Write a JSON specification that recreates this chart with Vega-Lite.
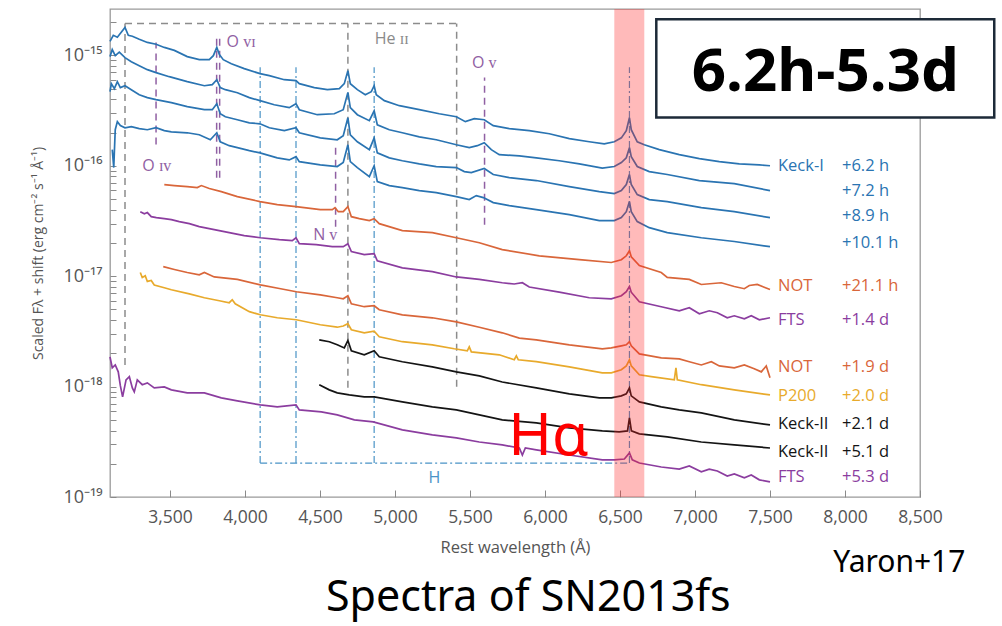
{
"$schema":"https://vega.github.io/schema/vega-lite/v6.json",
"width":810,"height":488,
"autosize":{"type":"none"},
"padding":{"left":110,"top":9,"right":82,"bottom":129},
"background":"white",
"config":{"view":{"stroke":"#9a9a9a","strokeWidth":1.3},"font":"Open Sans"},
"datasets":{
"spec":[
{"s":"k1","w":3100,"f":1.34e-15},{"s":"k1","w":3122,"f":1.52e-15},{"s":"k1","w":3149,"f":1.46e-15},{"s":"k1","w":3175,"f":1.62e-15},{"s":"k1","w":3200,"f":1.79e-15},{"s":"k1","w":3222,"f":1.52e-15},{"s":"k1","w":3249,"f":1.49e-15},{"s":"k1","w":3295,"f":1.40e-15},{"s":"k1","w":3349,"f":1.31e-15},{"s":"k1","w":3407,"f":1.26e-15},{"s":"k1","w":3462,"f":1.18e-15},{"s":"k1","w":3529,"f":1.11e-15},{"s":"k1","w":3615,"f":9.74e-16},{"s":"k1","w":3695,"f":9.14e-16},{"s":"k1","w":3762,"f":9.14e-16},{"s":"k1","w":3789,"f":9.94e-16},{"s":"k1","w":3812,"f":1.18e-15},{"s":"k1","w":3829,"f":1.02e-15},{"s":"k1","w":3855,"f":9.14e-16},{"s":"k1","w":3909,"f":8.41e-16},{"s":"k1","w":3995,"f":7.58e-16},{"s":"k1","w":4100,"f":6.83e-16},{"s":"k1","w":4162,"f":6.55e-16},{"s":"k1","w":4262,"f":6.02e-16},{"s":"k1","w":4340,"f":5.90e-16},{"s":"k1","w":4362,"f":5.54e-16},{"s":"k1","w":4462,"f":5.10e-16},{"s":"k1","w":4549,"f":4.89e-16},{"s":"k1","w":4629,"f":4.99e-16},{"s":"k1","w":4662,"f":5.54e-16},{"s":"k1","w":4686,"f":7.27e-16},{"s":"k1","w":4702,"f":5.54e-16},{"s":"k1","w":4749,"f":4.89e-16},{"s":"k1","w":4802,"f":4.40e-16},{"s":"k1","w":4842,"f":4.69e-16},{"s":"k1","w":4861,"f":5.31e-16},{"s":"k1","w":4875,"f":4.40e-16},{"s":"k1","w":4929,"f":3.89e-16},{"s":"k1","w":5029,"f":3.50e-16},{"s":"k1","w":5162,"f":3.22e-16},{"s":"k1","w":5295,"f":2.96e-16},{"s":"k1","w":5409,"f":2.78e-16},{"s":"k1","w":5469,"f":2.51e-16},{"s":"k1","w":5529,"f":2.67e-16},{"s":"k1","w":5595,"f":2.61e-16},{"s":"k1","w":5655,"f":2.31e-16},{"s":"k1","w":5762,"f":2.17e-16},{"s":"k1","w":5895,"f":2.08e-16},{"s":"k1","w":6029,"f":1.95e-16},{"s":"k1","w":6162,"f":1.76e-16},{"s":"k1","w":6295,"f":1.65e-16},{"s":"k1","w":6395,"f":1.58e-16},{"s":"k1","w":6462,"f":1.65e-16},{"s":"k1","w":6509,"f":1.79e-16},{"s":"k1","w":6542,"f":2.08e-16},{"s":"k1","w":6563,"f":2.72e-16},{"s":"k1","w":6575,"f":2.12e-16},{"s":"k1","w":6615,"f":1.65e-16},{"s":"k1","w":6662,"f":1.55e-16},{"s":"k1","w":6762,"f":1.40e-16},{"s":"k1","w":6895,"f":1.26e-16},{"s":"k1","w":7029,"f":1.16e-16},{"s":"k1","w":7162,"f":1.09e-16},{"s":"k1","w":7295,"f":1.04e-16},{"s":"k1","w":7429,"f":1.02e-16},{"s":"k1","w":7500,"f":1.00e-16},
{"s":"k2","w":3100,"f":9.74e-16},{"s":"k2","w":3115,"f":1.13e-15},{"s":"k2","w":3135,"f":9.94e-16},{"s":"k2","w":3162,"f":1.07e-15},{"s":"k2","w":3200,"f":9.53e-16},{"s":"k2","w":3242,"f":8.77e-16},{"s":"k2","w":3295,"f":8.07e-16},{"s":"k2","w":3349,"f":7.42e-16},{"s":"k2","w":3407,"f":6.97e-16},{"s":"k2","w":3495,"f":6.41e-16},{"s":"k2","w":3615,"f":5.78e-16},{"s":"k2","w":3729,"f":5.31e-16},{"s":"k2","w":3782,"f":5.43e-16},{"s":"k2","w":3812,"f":6.02e-16},{"s":"k2","w":3835,"f":5.10e-16},{"s":"k2","w":3869,"f":4.89e-16},{"s":"k2","w":3949,"f":4.59e-16},{"s":"k2","w":4029,"f":4.14e-16},{"s":"k2","w":4100,"f":3.89e-16},{"s":"k2","w":4195,"f":3.57e-16},{"s":"k2","w":4295,"f":3.36e-16},{"s":"k2","w":4340,"f":3.65e-16},{"s":"k2","w":4362,"f":3.22e-16},{"s":"k2","w":4482,"f":2.90e-16},{"s":"k2","w":4595,"f":2.96e-16},{"s":"k2","w":4655,"f":3.22e-16},{"s":"k2","w":4686,"f":4.62e-16},{"s":"k2","w":4702,"f":3.36e-16},{"s":"k2","w":4749,"f":2.90e-16},{"s":"k2","w":4829,"f":2.56e-16},{"s":"k2","w":4861,"f":3.15e-16},{"s":"k2","w":4882,"f":2.35e-16},{"s":"k2","w":4962,"f":2.12e-16},{"s":"k2","w":5049,"f":1.99e-16},{"s":"k2","w":5162,"f":1.83e-16},{"s":"k2","w":5275,"f":1.72e-16},{"s":"k2","w":5409,"f":1.55e-16},{"s":"k2","w":5495,"f":1.46e-16},{"s":"k2","w":5549,"f":1.52e-16},{"s":"k2","w":5595,"f":1.62e-16},{"s":"k2","w":5642,"f":1.40e-16},{"s":"k2","w":5695,"f":1.26e-16},{"s":"k2","w":5829,"f":1.23e-16},{"s":"k2","w":5942,"f":1.18e-16},{"s":"k2","w":6095,"f":1.11e-16},{"s":"k2","w":6229,"f":1.04e-16},{"s":"k2","w":6382,"f":9.53e-17},{"s":"k2","w":6462,"f":9.84e-17},{"s":"k2","w":6509,"f":1.07e-16},{"s":"k2","w":6542,"f":1.18e-16},{"s":"k2","w":6563,"f":1.46e-16},{"s":"k2","w":6575,"f":1.21e-16},{"s":"k2","w":6615,"f":9.84e-17},{"s":"k2","w":6695,"f":8.86e-17},{"s":"k2","w":6815,"f":8.33e-17},{"s":"k2","w":7029,"f":7.35e-17},{"s":"k2","w":7262,"f":6.90e-17},{"s":"k2","w":7500,"f":5.96e-17},
{"s":"k3","w":3100,"f":4.69e-16},{"s":"k3","w":3109,"f":5.54e-16},{"s":"k3","w":3129,"f":4.99e-16},{"s":"k3","w":3149,"f":5.78e-16},{"s":"k3","w":3169,"f":5.10e-16},{"s":"k3","w":3200,"f":5.31e-16},{"s":"k3","w":3242,"f":4.89e-16},{"s":"k3","w":3295,"f":4.40e-16},{"s":"k3","w":3349,"f":4.14e-16},{"s":"k3","w":3407,"f":3.97e-16},{"s":"k3","w":3509,"f":3.73e-16},{"s":"k3","w":3615,"f":3.43e-16},{"s":"k3","w":3729,"f":3.22e-16},{"s":"k3","w":3782,"f":3.22e-16},{"s":"k3","w":3812,"f":3.65e-16},{"s":"k3","w":3835,"f":2.96e-16},{"s":"k3","w":3869,"f":2.78e-16},{"s":"k3","w":3949,"f":2.61e-16},{"s":"k3","w":4029,"f":2.45e-16},{"s":"k3","w":4100,"f":2.40e-16},{"s":"k3","w":4162,"f":2.21e-16},{"s":"k3","w":4262,"f":2.08e-16},{"s":"k3","w":4340,"f":2.21e-16},{"s":"k3","w":4362,"f":1.99e-16},{"s":"k3","w":4502,"f":1.79e-16},{"s":"k3","w":4615,"f":1.72e-16},{"s":"k3","w":4655,"f":1.87e-16},{"s":"k3","w":4686,"f":2.72e-16},{"s":"k3","w":4702,"f":1.91e-16},{"s":"k3","w":4749,"f":1.65e-16},{"s":"k3","w":4829,"f":1.40e-16},{"s":"k3","w":4861,"f":1.79e-16},{"s":"k3","w":4882,"f":1.31e-16},{"s":"k3","w":4962,"f":1.18e-16},{"s":"k3","w":5049,"f":1.11e-16},{"s":"k3","w":5162,"f":1.04e-16},{"s":"k3","w":5275,"f":9.84e-17},{"s":"k3","w":5409,"f":9.63e-17},{"s":"k3","w":5462,"f":8.86e-17},{"s":"k3","w":5509,"f":8.68e-17},{"s":"k3","w":5595,"f":9.44e-17},{"s":"k3","w":5655,"f":8.33e-17},{"s":"k3","w":5762,"f":7.82e-17},{"s":"k3","w":5942,"f":7.35e-17},{"s":"k3","w":6162,"f":6.48e-17},{"s":"k3","w":6362,"f":5.84e-17},{"s":"k3","w":6462,"f":5.60e-17},{"s":"k3","w":6509,"f":5.96e-17},{"s":"k3","w":6542,"f":6.76e-17},{"s":"k3","w":6563,"f":8.33e-17},{"s":"k3","w":6575,"f":6.76e-17},{"s":"k3","w":6615,"f":5.48e-17},{"s":"k3","w":6695,"f":4.94e-17},{"s":"k3","w":6815,"f":4.74e-17},{"s":"k3","w":7042,"f":4.18e-17},{"s":"k3","w":7262,"f":3.84e-17},{"s":"k3","w":7500,"f":3.39e-17},
{"s":"k4","w":3115,"f":1.40e-16},{"s":"k4","w":3125,"f":9.63e-17},{"s":"k4","w":3135,"f":2.12e-16},{"s":"k4","w":3149,"f":2.51e-16},{"s":"k4","w":3169,"f":2.31e-16},{"s":"k4","w":3200,"f":2.21e-16},{"s":"k4","w":3242,"f":2.26e-16},{"s":"k4","w":3295,"f":2.17e-16},{"s":"k4","w":3349,"f":2.12e-16},{"s":"k4","w":3407,"f":2.21e-16},{"s":"k4","w":3462,"f":2.08e-16},{"s":"k4","w":3509,"f":2.03e-16},{"s":"k4","w":3615,"f":1.99e-16},{"s":"k4","w":3695,"f":1.91e-16},{"s":"k4","w":3769,"f":1.72e-16},{"s":"k4","w":3812,"f":1.99e-16},{"s":"k4","w":3835,"f":1.65e-16},{"s":"k4","w":3895,"f":1.52e-16},{"s":"k4","w":3949,"f":1.46e-16},{"s":"k4","w":4029,"f":1.37e-16},{"s":"k4","w":4100,"f":1.31e-16},{"s":"k4","w":4215,"f":1.18e-16},{"s":"k4","w":4295,"f":1.13e-16},{"s":"k4","w":4340,"f":1.21e-16},{"s":"k4","w":4362,"f":1.09e-16},{"s":"k4","w":4502,"f":1.02e-16},{"s":"k4","w":4615,"f":9.84e-17},{"s":"k4","w":4655,"f":1.07e-16},{"s":"k4","w":4686,"f":1.55e-16},{"s":"k4","w":4702,"f":1.09e-16},{"s":"k4","w":4749,"f":9.63e-17},{"s":"k4","w":4829,"f":7.98e-17},{"s":"k4","w":4861,"f":1.00e-16},{"s":"k4","w":4882,"f":7.19e-17},{"s":"k4","w":4962,"f":6.62e-17},{"s":"k4","w":5049,"f":6.35e-17},{"s":"k4","w":5162,"f":5.96e-17},{"s":"k4","w":5275,"f":5.72e-17},{"s":"k4","w":5409,"f":5.26e-17},{"s":"k4","w":5495,"f":4.94e-17},{"s":"k4","w":5542,"f":5.37e-17},{"s":"k4","w":5589,"f":5.15e-17},{"s":"k4","w":5655,"f":4.64e-17},{"s":"k4","w":5762,"f":4.36e-17},{"s":"k4","w":5942,"f":4.01e-17},{"s":"k4","w":6162,"f":3.61e-17},{"s":"k4","w":6362,"f":3.19e-17},{"s":"k4","w":6462,"f":3.19e-17},{"s":"k4","w":6509,"f":3.39e-17},{"s":"k4","w":6542,"f":3.84e-17},{"s":"k4","w":6563,"f":4.74e-17},{"s":"k4","w":6575,"f":3.84e-17},{"s":"k4","w":6615,"f":3.12e-17},{"s":"k4","w":6695,"f":2.75e-17},{"s":"k4","w":6815,"f":2.48e-17},{"s":"k4","w":7042,"f":2.23e-17},{"s":"k4","w":7262,"f":2.06e-17},{"s":"k4","w":7500,"f":1.85e-17},
{"s":"not1","w":3462,"f":6.76e-17},{"s":"not1","w":3529,"f":6.62e-17},{"s":"not1","w":3615,"f":6.48e-17},{"s":"not1","w":3682,"f":6.35e-17},{"s":"not1","w":3709,"f":6.62e-17},{"s":"not1","w":3762,"f":6.22e-17},{"s":"not1","w":3842,"f":5.84e-17},{"s":"not1","w":3949,"f":5.26e-17},{"s":"not1","w":4100,"f":4.74e-17},{"s":"not1","w":4215,"f":4.45e-17},{"s":"not1","w":4340,"f":4.27e-17},{"s":"not1","w":4502,"f":4.01e-17},{"s":"not1","w":4582,"f":4.01e-17},{"s":"not1","w":4600,"f":4.18e-17},{"s":"not1","w":4622,"f":3.84e-17},{"s":"not1","w":4655,"f":3.84e-17},{"s":"not1","w":4686,"f":4.27e-17},{"s":"not1","w":4709,"f":3.46e-17},{"s":"not1","w":4762,"f":3.32e-17},{"s":"not1","w":4829,"f":3.19e-17},{"s":"not1","w":4861,"f":3.32e-17},{"s":"not1","w":4895,"f":2.99e-17},{"s":"not1","w":5049,"f":2.59e-17},{"s":"not1","w":5249,"f":2.48e-17},{"s":"not1","w":5409,"f":2.23e-17},{"s":"not1","w":5562,"f":2.01e-17},{"s":"not1","w":5715,"f":1.74e-17},{"s":"not1","w":5962,"f":1.53e-17},{"s":"not1","w":6229,"f":1.41e-17},{"s":"not1","w":6442,"f":1.33e-17},{"s":"not1","w":6509,"f":1.41e-17},{"s":"not1","w":6542,"f":1.53e-17},{"s":"not1","w":6563,"f":1.70e-17},{"s":"not1","w":6575,"f":1.50e-17},{"s":"not1","w":6629,"f":1.25e-17},{"s":"not1","w":6775,"f":1.08e-17},{"s":"not1","w":6815,"f":9.74e-18},{"s":"not1","w":6962,"f":9.34e-18},{"s":"not1","w":7042,"f":8.41e-18},{"s":"not1","w":7175,"f":8.72e-18},{"s":"not1","w":7262,"f":8.07e-18},{"s":"not1","w":7329,"f":7.70e-18},{"s":"not1","w":7362,"f":8.24e-18},{"s":"not1","w":7415,"f":8.41e-18},{"s":"not1","w":7500,"f":7.58e-18},
{"s":"fts1","w":3302,"f":3.84e-17},{"s":"fts1","w":3329,"f":3.67e-17},{"s":"fts1","w":3349,"f":3.77e-17},{"s":"fts1","w":3375,"f":3.46e-17},{"s":"fts1","w":3409,"f":3.39e-17},{"s":"fts1","w":3462,"f":3.32e-17},{"s":"fts1","w":3509,"f":3.25e-17},{"s":"fts1","w":3562,"f":3.12e-17},{"s":"fts1","w":3629,"f":2.99e-17},{"s":"fts1","w":3695,"f":2.81e-17},{"s":"fts1","w":3795,"f":2.64e-17},{"s":"fts1","w":3895,"f":2.48e-17},{"s":"fts1","w":3995,"f":2.33e-17},{"s":"fts1","w":4102,"f":2.23e-17},{"s":"fts1","w":4229,"f":2.14e-17},{"s":"fts1","w":4315,"f":2.10e-17},{"s":"fts1","w":4340,"f":2.23e-17},{"s":"fts1","w":4362,"f":1.97e-17},{"s":"fts1","w":4475,"f":1.93e-17},{"s":"fts1","w":4582,"f":1.85e-17},{"s":"fts1","w":4655,"f":1.85e-17},{"s":"fts1","w":4686,"f":1.97e-17},{"s":"fts1","w":4709,"f":1.67e-17},{"s":"fts1","w":4795,"f":1.57e-17},{"s":"fts1","w":4861,"f":1.60e-17},{"s":"fts1","w":4882,"f":1.38e-17},{"s":"fts1","w":5049,"f":1.19e-17},{"s":"fts1","w":5249,"f":1.10e-17},{"s":"fts1","w":5409,"f":9.84e-18},{"s":"fts1","w":5562,"f":9.34e-18},{"s":"fts1","w":5715,"f":8.72e-18},{"s":"fts1","w":5795,"f":8.50e-18},{"s":"fts1","w":5849,"f":8.72e-18},{"s":"fts1","w":5895,"f":7.98e-18},{"s":"fts1","w":6095,"f":7.16e-18},{"s":"fts1","w":6295,"f":6.38e-18},{"s":"fts1","w":6442,"f":6.24e-18},{"s":"fts1","w":6509,"f":6.65e-18},{"s":"fts1","w":6542,"f":7.23e-18},{"s":"fts1","w":6563,"f":8.07e-18},{"s":"fts1","w":6575,"f":7.16e-18},{"s":"fts1","w":6629,"f":5.87e-18},{"s":"fts1","w":6775,"f":5.29e-18},{"s":"fts1","w":6895,"f":4.86e-18},{"s":"fts1","w":6962,"f":5.18e-18},{"s":"fts1","w":7029,"f":4.57e-18},{"s":"fts1","w":7095,"f":4.86e-18},{"s":"fts1","w":7149,"f":4.66e-18},{"s":"fts1","w":7215,"f":4.20e-18},{"s":"fts1","w":7262,"f":4.38e-18},{"s":"fts1","w":7329,"f":4.11e-18},{"s":"fts1","w":7375,"f":4.38e-18},{"s":"fts1","w":7429,"f":4.03e-18},{"s":"fts1","w":7500,"f":4.20e-18},
{"s":"not2","w":3455,"f":1.22e-17},{"s":"not2","w":3529,"f":1.15e-17},{"s":"not2","w":3615,"f":1.08e-17},{"s":"not2","w":3695,"f":1.03e-17},{"s":"not2","w":3729,"f":1.08e-17},{"s":"not2","w":3795,"f":9.84e-18},{"s":"not2","w":3949,"f":9.34e-18},{"s":"not2","w":4102,"f":8.33e-18},{"s":"not2","w":4229,"f":7.74e-18},{"s":"not2","w":4342,"f":7.23e-18},{"s":"not2","w":4502,"f":6.76e-18},{"s":"not2","w":4615,"f":6.38e-18},{"s":"not2","w":4655,"f":6.24e-18},{"s":"not2","w":4686,"f":6.65e-18},{"s":"not2","w":4709,"f":5.63e-18},{"s":"not2","w":4795,"f":5.29e-18},{"s":"not2","w":4861,"f":5.40e-18},{"s":"not2","w":4895,"f":4.97e-18},{"s":"not2","w":5049,"f":4.47e-18},{"s":"not2","w":5249,"f":4.20e-18},{"s":"not2","w":5409,"f":3.86e-18},{"s":"not2","w":5562,"f":3.45e-18},{"s":"not2","w":5715,"f":3.07e-18},{"s":"not2","w":5829,"f":2.75e-18},{"s":"not2","w":5942,"f":2.65e-18},{"s":"not2","w":6162,"f":2.39e-18},{"s":"not2","w":6382,"f":2.20e-18},{"s":"not2","w":6442,"f":2.24e-18},{"s":"not2","w":6509,"f":2.34e-18},{"s":"not2","w":6542,"f":2.39e-18},{"s":"not2","w":6563,"f":2.55e-18},{"s":"not2","w":6575,"f":2.34e-18},{"s":"not2","w":6629,"f":1.98e-18},{"s":"not2","w":6775,"f":1.82e-18},{"s":"not2","w":6895,"f":1.78e-18},{"s":"not2","w":6962,"f":1.68e-18},{"s":"not2","w":7042,"f":1.57e-18},{"s":"not2","w":7109,"f":1.68e-18},{"s":"not2","w":7162,"f":1.54e-18},{"s":"not2","w":7262,"f":1.48e-18},{"s":"not2","w":7329,"f":1.57e-18},{"s":"not2","w":7395,"f":1.45e-18},{"s":"not2","w":7442,"f":1.36e-18},{"s":"not2","w":7475,"f":1.54e-18},{"s":"not2","w":7500,"f":1.20e-18},
{"s":"p200","w":3302,"f":1.08e-17},{"s":"p200","w":3315,"f":9.74e-18},{"s":"p200","w":3335,"f":1.01e-17},{"s":"p200","w":3349,"f":8.96e-18},{"s":"p200","w":3375,"f":9.14e-18},{"s":"p200","w":3395,"f":8.33e-18},{"s":"p200","w":3462,"f":7.86e-18},{"s":"p200","w":3509,"f":7.54e-18},{"s":"p200","w":3629,"f":6.92e-18},{"s":"p200","w":3729,"f":6.38e-18},{"s":"p200","w":3829,"f":5.99e-18},{"s":"p200","w":3895,"f":5.75e-18},{"s":"p200","w":3915,"f":6.12e-18},{"s":"p200","w":3935,"f":5.63e-18},{"s":"p200","w":4029,"f":4.77e-18},{"s":"p200","w":4102,"f":4.47e-18},{"s":"p200","w":4215,"f":4.20e-18},{"s":"p200","w":4342,"f":4.03e-18},{"s":"p200","w":4502,"f":3.63e-18},{"s":"p200","w":4615,"f":3.45e-18},{"s":"p200","w":4655,"f":3.54e-18},{"s":"p200","w":4686,"f":3.71e-18},{"s":"p200","w":4709,"f":3.27e-18},{"s":"p200","w":4795,"f":3.07e-18},{"s":"p200","w":4861,"f":3.17e-18},{"s":"p200","w":4895,"f":2.83e-18},{"s":"p200","w":5049,"f":2.55e-18},{"s":"p200","w":5249,"f":2.39e-18},{"s":"p200","w":5395,"f":2.20e-18},{"s":"p200","w":5482,"f":2.11e-18},{"s":"p200","w":5495,"f":2.29e-18},{"s":"p200","w":5509,"f":2.06e-18},{"s":"p200","w":5695,"f":1.94e-18},{"s":"p200","w":5795,"f":1.75e-18},{"s":"p200","w":5809,"f":1.90e-18},{"s":"p200","w":5822,"f":1.75e-18},{"s":"p200","w":5942,"f":1.68e-18},{"s":"p200","w":6162,"f":1.51e-18},{"s":"p200","w":6382,"f":1.33e-18},{"s":"p200","w":6442,"f":1.33e-18},{"s":"p200","w":6509,"f":1.42e-18},{"s":"p200","w":6542,"f":1.54e-18},{"s":"p200","w":6563,"f":1.75e-18},{"s":"p200","w":6575,"f":1.54e-18},{"s":"p200","w":6629,"f":1.28e-18},{"s":"p200","w":6709,"f":1.23e-18},{"s":"p200","w":6862,"f":1.15e-18},{"s":"p200","w":6873,"f":1.48e-18},{"s":"p200","w":6882,"f":1.15e-18},{"s":"p200","w":7042,"f":1.04e-18},{"s":"p200","w":7262,"f":9.34e-19},{"s":"p200","w":7500,"f":8.41e-19},
{"s":"kii1","w":4495,"f":2.65e-18},{"s":"kii1","w":4562,"f":2.55e-18},{"s":"kii1","w":4615,"f":2.39e-18},{"s":"kii1","w":4662,"f":2.24e-18},{"s":"kii1","w":4686,"f":2.61e-18},{"s":"kii1","w":4709,"f":2.11e-18},{"s":"kii1","w":4795,"f":1.94e-18},{"s":"kii1","w":4861,"f":2.11e-18},{"s":"kii1","w":4895,"f":1.86e-18},{"s":"kii1","w":5049,"f":1.68e-18},{"s":"kii1","w":5249,"f":1.51e-18},{"s":"kii1","w":5409,"f":1.36e-18},{"s":"kii1","w":5562,"f":1.25e-18},{"s":"kii1","w":5715,"f":1.10e-18},{"s":"kii1","w":5942,"f":9.74e-19},{"s":"kii1","w":6162,"f":8.59e-19},{"s":"kii1","w":6362,"f":7.90e-19},{"s":"kii1","w":6442,"f":7.90e-19},{"s":"kii1","w":6509,"f":8.24e-19},{"s":"kii1","w":6542,"f":8.59e-19},{"s":"kii1","w":6563,"f":9.74e-19},{"s":"kii1","w":6575,"f":8.24e-19},{"s":"kii1","w":6629,"f":7.27e-19},{"s":"kii1","w":6775,"f":6.55e-19},{"s":"kii1","w":6895,"f":6.15e-19},{"s":"kii1","w":7042,"f":5.78e-19},{"s":"kii1","w":7262,"f":4.99e-19},{"s":"kii1","w":7500,"f":4.50e-19},
{"s":"kii2","w":4495,"f":1.04e-18},{"s":"kii2","w":4562,"f":9.34e-19},{"s":"kii2","w":4615,"f":8.77e-19},{"s":"kii2","w":4695,"f":8.41e-19},{"s":"kii2","w":4795,"f":8.07e-19},{"s":"kii2","w":4862,"f":8.07e-19},{"s":"kii2","w":5049,"f":7.27e-19},{"s":"kii2","w":5249,"f":6.55e-19},{"s":"kii2","w":5409,"f":6.15e-19},{"s":"kii2","w":5562,"f":5.54e-19},{"s":"kii2","w":5715,"f":4.99e-19},{"s":"kii2","w":5942,"f":4.69e-19},{"s":"kii2","w":6162,"f":4.22e-19},{"s":"kii2","w":6382,"f":3.97e-19},{"s":"kii2","w":6495,"f":3.89e-19},{"s":"kii2","w":6550,"f":3.97e-19},{"s":"kii2","w":6563,"f":5.20e-19},{"s":"kii2","w":6576,"f":3.97e-19},{"s":"kii2","w":6629,"f":3.73e-19},{"s":"kii2","w":6815,"f":3.50e-19},{"s":"kii2","w":7042,"f":3.15e-19},{"s":"kii2","w":7262,"f":2.96e-19},{"s":"kii2","w":7500,"f":2.78e-19},
{"s":"fts2","w":3100,"f":1.86e-18},{"s":"fts2","w":3115,"f":1.48e-18},{"s":"fts2","w":3135,"f":1.57e-18},{"s":"fts2","w":3155,"f":1.36e-18},{"s":"fts2","w":3169,"f":1.02e-18},{"s":"fts2","w":3184,"f":8.07e-19},{"s":"fts2","w":3207,"f":1.15e-18},{"s":"fts2","w":3229,"f":1.23e-18},{"s":"fts2","w":3249,"f":9.74e-19},{"s":"fts2","w":3262,"f":8.96e-19},{"s":"fts2","w":3282,"f":1.15e-18},{"s":"fts2","w":3315,"f":1.04e-18},{"s":"fts2","w":3349,"f":1.08e-18},{"s":"fts2","w":3395,"f":9.74e-19},{"s":"fts2","w":3462,"f":9.94e-19},{"s":"fts2","w":3509,"f":9.34e-19},{"s":"fts2","w":3615,"f":8.77e-19},{"s":"fts2","w":3729,"f":8.77e-19},{"s":"fts2","w":3842,"f":7.90e-19},{"s":"fts2","w":3949,"f":7.42e-19},{"s":"fts2","w":4102,"f":6.83e-19},{"s":"fts2","w":4215,"f":6.55e-19},{"s":"fts2","w":4340,"f":6.83e-19},{"s":"fts2","w":4362,"f":6.15e-19},{"s":"fts2","w":4509,"f":5.90e-19},{"s":"fts2","w":4615,"f":5.54e-19},{"s":"fts2","w":4729,"f":4.99e-19},{"s":"fts2","w":4855,"f":4.79e-19},{"s":"fts2","w":5049,"f":4.05e-19},{"s":"fts2","w":5249,"f":3.65e-19},{"s":"fts2","w":5409,"f":3.43e-19},{"s":"fts2","w":5562,"f":3.15e-19},{"s":"fts2","w":5715,"f":2.96e-19},{"s":"fts2","w":5829,"f":2.78e-19},{"s":"fts2","w":5849,"f":2.40e-19},{"s":"fts2","w":5869,"f":2.78e-19},{"s":"fts2","w":5942,"f":2.67e-19},{"s":"fts2","w":6162,"f":2.40e-19},{"s":"fts2","w":6382,"f":2.17e-19},{"s":"fts2","w":6462,"f":2.17e-19},{"s":"fts2","w":6529,"f":2.21e-19},{"s":"fts2","w":6563,"f":2.51e-19},{"s":"fts2","w":6582,"f":2.17e-19},{"s":"fts2","w":6629,"f":2.03e-19},{"s":"fts2","w":6775,"f":1.87e-19},{"s":"fts2","w":6895,"f":1.79e-19},{"s":"fts2","w":6962,"f":1.91e-19},{"s":"fts2","w":7042,"f":1.69e-19},{"s":"fts2","w":7095,"f":1.79e-19},{"s":"fts2","w":7149,"f":1.72e-19},{"s":"fts2","w":7215,"f":1.55e-19},{"s":"fts2","w":7262,"f":1.62e-19},{"s":"fts2","w":7329,"f":1.49e-19},{"s":"fts2","w":7375,"f":1.58e-19},{"s":"fts2","w":7429,"f":1.43e-19},{"s":"fts2","w":7500,"f":1.37e-19}
],
"labels":[
{"s":"k1","inst":"Keck-I","t":"+6.2 h","w":7500,"f":9.9e-17},
{"s":"k2","inst":"","t":"+7.2 h","w":7500,"f":5.88e-17},
{"s":"k3","inst":"","t":"+8.9 h","w":7500,"f":3.48e-17},
{"s":"k4","inst":"","t":"+10.1 h","w":7500,"f":2.00e-17},
{"s":"not1","inst":"NOT","t":"+21.1 h","w":7500,"f":8.07e-18},
{"s":"fts1","inst":"FTS","t":"+1.4 d","w":7500,"f":4.03e-18},
{"s":"not2","inst":"NOT","t":"+1.9 d","w":7500,"f":1.52e-18},
{"s":"p200","inst":"P200","t":"+2.0 d","w":7500,"f":8.24e-19},
{"s":"kii1","inst":"Keck-II","t":"+2.1 d","w":7500,"f":4.59e-19},
{"s":"kii2","inst":"Keck-II","t":"+5.1 d","w":7500,"f":2.57e-19},
{"s":"fts2","inst":"FTS","t":"+5.3 d","w":7500,"f":1.53e-19}
],
"vrefs":[
{"k":"g","w":3200,"f":1.57e-18,"f2":1.94e-15},
{"k":"g","w":4686,"f":9.74e-19,"f2":1.94e-15},
{"k":"g","w":5411,"f":9.95e-19,"f2":1.94e-15},
{"k":"p","w":3407,"f":1.56e-16,"f2":1.31e-15},
{"k":"p","w":3811,"f":7.8e-17,"f2":1.46e-15},
{"k":"p","w":3831,"f":7.8e-17,"f2":1.46e-15},
{"k":"p","w":4604,"f":2.81e-17,"f2":1.50e-16},
{"k":"p","w":5597,"f":2.93e-17,"f2":6.31e-16},
{"k":"b","w":4101,"f":2.03e-19,"f2":7.8e-16},
{"k":"b","w":4340,"f":2.03e-19,"f2":7.8e-16},
{"k":"b","w":4861,"f":2.03e-19,"f2":7.8e-16},
{"k":"b","w":6563,"f":2.03e-19,"f2":7.8e-16}
],
"hrefs":[
{"k":"g","w":3200,"w2":5411,"f":1.94e-15},
{"k":"b","w":4101,"w2":6563,"f":2.03e-19}
],
"notes":[
{"txt":"He ɪɪ","k":"g","w":4978,"f":1.40e-15},
{"txt":"O ᴠɪ","k":"p","w":3974,"f":1.31e-15},
{"txt":"O ɪᴠ","k":"p","w":3412,"f":9.9e-17},
{"txt":"N ᴠ","k":"p","w":4535,"f":2.38e-17},
{"txt":"O ᴠ","k":"p","w":5595,"f":8.59e-16},
{"txt":"H","k":"b","w":5262,"f":1.48e-19}
],
"band":[{"w":6462,"w2":6662,"f":2.63e-15,"f2":1e-19}],
"box":[{"w":6742,"w2":8995,"f":2.12e-15,"f2":2.73e-16}],
"big":[
{"txt":"6.2h-5.3d","k":"box","w":7869,"f":4.72e-16},
{"txt":"Hα","k":"ha","w":6023,"f":2.40e-19},
{"txt":"Yaron+17","k":"ref","w":8362,"f":2.52e-20},
{"txt":"Spectra of SN2013fs","k":"title","w":5889,"f":1.22e-20}
]
},
"encoding":{
"x":{"field":"w","type":"quantitative","scale":{"domain":[3100,8500],"nice":false,"zero":false},
 "axis":{"values":[3500,4000,4500,5000,5500,6000,6500,7000,7500,8000,8500],"labelExpr":"format(datum.value, ',')","labelFlush":false,"labelOverlap":false,"grid":false,"domain":false,"tickSize":-7,"tickColor":"#8a8a8a","labelColor":"#555","labelFontSize":17.5,"labelFont":"Open Sans","labelPadding":18,"title":"Rest wavelength (Å)","titleFont":"Open Sans","titleFontSize":16.5,"titleFontWeight":"normal","titleColor":"#555","titlePadding":14}},
"y":{"field":"f","type":"quantitative","scale":{"type":"log","domain":[1e-19,2.63e-15],"nice":false},
 "axis":{"values":[1e-19,2e-19,3e-19,4e-19,5e-19,6e-19,7e-19,8e-19,9e-19,1e-18,2e-18,3e-18,4e-18,5e-18,6e-18,7e-18,8e-18,9e-18,1e-17,2e-17,3e-17,4e-17,5e-17,6e-17,7e-17,8e-17,9e-17,1e-16,2e-16,3e-16,4e-16,5e-16,6e-16,7e-16,8e-16,9e-16,1e-15,2e-15],
 "labelExpr":"datum.value == 1e-15 ? '10⁻¹⁵' : datum.value == 1e-16 ? '10⁻¹⁶' : datum.value == 1e-17 ? '10⁻¹⁷' : datum.value == 1e-18 ? '10⁻¹⁸' : datum.value == 1e-19 ? '10⁻¹⁹' : ''",
 "labelFlush":false,"labelOverlap":false,"grid":false,"domain":false,"tickSize":-6,"tickColor":"#8a8a8a","labelColor":"#555","labelFontSize":18,"labelFont":"Open Sans","labelPadding":14,"title":"Scaled Fλ + shift (erg cm⁻² s⁻¹ Å⁻¹)","titleFont":"Open Sans","titleFontSize":14,"titleFontWeight":"normal","titleColor":"#555","titlePadding":17}}
},
"layer":[
{"data":{"name":"vrefs"},"transform":[{"filter":"datum.k == 'g'"}],"mark":{"type":"rule","color":"#8c8c8c","strokeWidth":1.5,"strokeDash":[7,5]},"encoding":{"y2":{"field":"f2"}}},
{"data":{"name":"hrefs"},"transform":[{"filter":"datum.k == 'g'"}],"mark":{"type":"rule","color":"#8c8c8c","strokeWidth":1.5,"strokeDash":[7,5]},"encoding":{"x2":{"field":"w2"}}},
{"data":{"name":"vrefs"},"transform":[{"filter":"datum.k == 'p'"}],"mark":{"type":"rule","color":"#9060a3","strokeWidth":1.5,"strokeDash":[7,5]},"encoding":{"y2":{"field":"f2"}}},
{"data":{"name":"vrefs"},"transform":[{"filter":"datum.k == 'b'"}],"mark":{"type":"rule","color":"#4a93c6","strokeWidth":1.2,"strokeDash":[7,3,2,3]},"encoding":{"y2":{"field":"f2"}}},
{"data":{"name":"hrefs"},"transform":[{"filter":"datum.k == 'b'"}],"mark":{"type":"rule","color":"#4a93c6","strokeWidth":1.2,"strokeDash":[7,3,2,3]},"encoding":{"x2":{"field":"w2"}}},
{"data":{"name":"spec"},"mark":{"type":"line","strokeWidth":1.7,"interpolate":"linear"},
 "encoding":{"color":{"field":"s","type":"nominal","legend":null,
  "scale":{"domain":["k1","k2","k3","k4","not1","fts1","not2","p200","kii1","kii2","fts2"],
   "range":["#2a74b2","#2a74b2","#2a74b2","#2a74b2","#d9663a","#8b3d9f","#d9663a","#e8aa2c","#141414","#141414","#8b3d9f"]}},
  "detail":{"field":"s"}}},
{"data":{"name":"band"},"mark":{"type":"rect","color":"#ff2020","opacity":0.31},"encoding":{"x2":{"field":"w2"},"y2":{"field":"f2"}}},
{"data":{"name":"labels"},"mark":{"type":"text","align":"left","baseline":"middle","dx":8,"fontSize":16.5,"font":"Open Sans"},
 "encoding":{"text":{"field":"inst"},"color":{"field":"s","type":"nominal","legend":null}}},
{"data":{"name":"labels"},"mark":{"type":"text","align":"left","baseline":"middle","dx":72,"fontSize":16.5,"font":"Open Sans"},
 "encoding":{"text":{"field":"t"},"color":{"field":"s","type":"nominal","legend":null}}},
{"data":{"name":"notes"},"mark":{"type":"text","align":"center","baseline":"middle","fontSize":16,"font":"Open Sans"},
 "encoding":{"text":{"field":"txt"},"fill":{"field":"k","type":"nominal","legend":null,"scale":{"domain":["g","p","b"],"range":["#8a8a8a","#9060a3","#4a93c6"]}}}},
{"data":{"name":"box"},"mark":{"type":"rect","fill":"white","stroke":"#1d2a38","strokeWidth":2.5},"encoding":{"x2":{"field":"w2"},"y2":{"field":"f2"}}},
{"data":{"name":"big"},"transform":[{"filter":"datum.k == 'box'"}],"mark":{"type":"text","align":"center","baseline":"alphabetic","fontSize":60,"fontWeight":"bold","font":"Noto Sans","color":"#000"},"encoding":{"text":{"field":"txt"}}},
{"data":{"name":"big"},"transform":[{"filter":"datum.k == 'ha'"}],"mark":{"type":"text","align":"center","baseline":"alphabetic","fontSize":59,"font":"Noto Sans","color":"#ff0000"},"encoding":{"text":{"field":"txt"}}},
{"data":{"name":"big"},"transform":[{"filter":"datum.k == 'ref'"}],"mark":{"type":"text","align":"center","baseline":"middle","fontSize":30,"font":"Noto Sans","color":"#000"},"encoding":{"text":{"field":"txt"}}},
{"data":{"name":"big"},"transform":[{"filter":"datum.k == 'title'"}],"mark":{"type":"text","align":"center","baseline":"middle","fontSize":43,"font":"Noto Sans","color":"#000"},"encoding":{"text":{"field":"txt"}}}
]
}
